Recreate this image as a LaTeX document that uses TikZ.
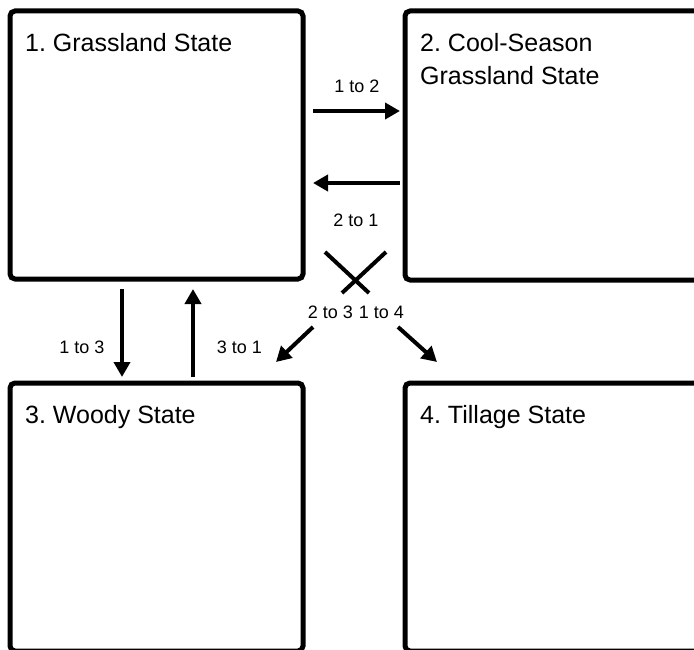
\documentclass[tikz,border=0pt]{standalone}
\usepackage{fontspec}
\setmainfont{Liberation Sans}
\frenchspacing
\usetikzlibrary{arrows.meta}
\tikzset{
  statebox/.style={draw=black, line width=5pt, rounded corners=5pt, outer sep=0pt, inner sep=0pt, anchor=north west},
  statetitle/.style={font=\fontsize{25}{33}\selectfont, anchor=base west, inner sep=0pt, align=left},
  lbl/.style={font=\fontsize{18}{21}\selectfont, anchor=base, inner sep=0pt},
  arr/.style={line width=4pt, -{Triangle[length=15pt,width=16pt]}},
  xline/.style={line width=4pt}
}
\begin{document}
\begin{tikzpicture}[x=1pt,y=-1pt]
\useasboundingbox (0,0) rectangle (694,650);
\begin{scope}
\clip (0,0) rectangle (694,650);
\node[statebox, minimum width=293pt, minimum height=268pt] (s1) at (10,11) {};
\node[statebox, minimum width=320pt, minimum height=269pt] (s2) at (405,11) {};
\node[statebox, minimum width=293pt, minimum height=268pt] (s3) at (10,383) {};
\node[statebox, minimum width=320pt, minimum height=268pt] (s4) at (405,383) {};
\end{scope}
\node[statetitle] (t1) at (25,52) {1. Grassland State};
\node[statetitle] (t2) at (420,85) {2. Cool-Season\\Grassland State};
\node[statetitle] (t3) at (25,423) {3. Woody State};
\node[statetitle] (t4) at (420,423) {4. Tillage State};

\coordinate (a12s) at (313,111); \coordinate (a12e) at (400,111);
\coordinate (a21s) at (400,183); \coordinate (a21e) at (313,183);
\coordinate (a13s) at (122,289); \coordinate (a13e) at (122,377);
\coordinate (a31s) at (193,377); \coordinate (a31e) at (193,289);
\coordinate (a23s) at (313,327); \coordinate (a23e) at (276,362);
\coordinate (a14s) at (398,327); \coordinate (a14e) at (437,362);
\coordinate (x1s) at (325,252); \coordinate (x1e) at (369,293);
\coordinate (x2s) at (386,252); \coordinate (x2e) at (342,293);

\draw[arr] (a12s) -- (a12e);
\draw[arr] (a21s) -- (a21e);
\draw[arr] (a13s) -- (a13e);
\draw[arr] (a31s) -- (a31e);
\draw[arr] (a23s) -- (a23e);
\draw[arr] (a14s) -- (a14e);
\draw[xline] (x1s) -- (x1e);
\draw[xline] (x2s) -- (x2e);

\node[lbl] (l12) at (357,93) {1 to 2};
\node[lbl] (l21) at (356,226) {2 to 1};
\node[lbl] (l13) at (82,353) {1 to 3};
\node[lbl] (l31) at (239.5,353) {3 to 1};
\node[lbl] (l23) at (330.5,318) {2 to 3};
\node[lbl] (l14) at (381.5,318) {1 to 4};
\end{tikzpicture}
\end{document}
